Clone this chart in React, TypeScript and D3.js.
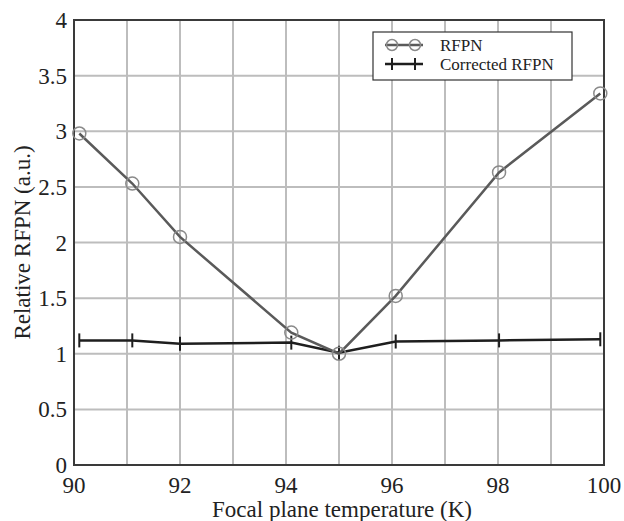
import React from "react";
import * as d3 from "d3";

// Focal plane temperature (K) at each measurement
const temperatures = [90.1, 91.1, 92.0, 94.1, 95.0, 96.07, 98.02, 99.93];
// Relative RFPN before correction (a.u.)
const rfpn = [2.98, 2.53, 2.05, 1.19, 1.0, 1.52, 2.63, 3.34];
// Relative RFPN after correction (a.u.)
const correctedRfpn = [1.12, 1.12, 1.09, 1.1, 1.01, 1.11, 1.12, 1.13];

const xTicks = [90, 92, 94, 96, 98, 100];
const yTicks = [0, 0.5, 1, 1.5, 2, 2.5, 3, 3.5, 4];
const xGrid = d3.range(90, 101, 1);
const yGrid = d3.range(0, 4.01, 0.5);

const seriesNames = ["RFPN", "Corrected RFPN"];

const W = 624;
const H = 521;
const margin = { left: 74, right: 20, top: 20, bottom: 56 };
const font = "'Liberation Serif', 'Times New Roman', serif";

export default function App() {
  const x = d3
    .scaleLinear()
    .domain([90, 100])
    .range([margin.left, W - margin.right]);
  const y = d3
    .scaleLinear()
    .domain([0, 4])
    .range([H - margin.bottom, margin.top]);

  const pts = (vals: number[]) =>
    temperatures.map((t, i) => [t, vals[i]] as [number, number]);
  const line = d3
    .line<[number, number]>()
    .x((d) => x(d[0]))
    .y((d) => y(d[1]));

  const rfpnColor = "#5a5a5a";
  const corrColor = "#1e1e1e";
  const gridColor = "#bdbdbd";

  const lx = 373;
  const ly = 32;
  const row1 = ly + 13;
  const row2 = ly + 32;

  return (
    <svg
      width={W}
      height={H}
      style={{ position: "absolute", left: 0, top: 0, background: "#fff" }}
      fontFamily={font}
    >
      {/* grid */}
      {xGrid.map((v) => (
        <line
          key={"gx" + v}
          x1={x(v)}
          x2={x(v)}
          y1={y(0)}
          y2={y(4)}
          stroke={gridColor}
          strokeWidth={2}
        />
      ))}
      {yGrid.map((v) => (
        <line
          key={"gy" + v}
          x1={x(90)}
          x2={x(100)}
          y1={y(v)}
          y2={y(v)}
          stroke={gridColor}
          strokeWidth={2}
        />
      ))}
      {/* frame */}
      <rect
        x={x(90)}
        y={y(4)}
        width={x(100) - x(90)}
        height={y(0) - y(4)}
        fill="none"
        stroke="#3a3a3a"
        strokeWidth={2}
      />
      {/* tick labels */}
      {xTicks.map((v) => (
        <text
          key={"xt" + v}
          x={x(v)}
          y={y(0) + 28}
          textAnchor="middle"
          fontSize={23}
          fill="#222"
        >
          {v}
        </text>
      ))}
      {yTicks.map((v) => (
        <text
          key={"yt" + v}
          x={x(90) - 7}
          y={y(v) + 8}
          textAnchor="end"
          fontSize={23}
          fill="#222"
        >
          {v}
        </text>
      ))}
      {/* axis titles */}
      <text
        x={(x(90) + x(100)) / 2 + 3}
        y={H - 4}
        textAnchor="middle"
        fontSize={23}
        fill="#222"
      >
        Focal plane temperature (K)
      </text>
      <text
        transform={`translate(30, ${(y(0) + y(4)) / 2}) rotate(-90)`}
        textAnchor="middle"
        fontSize={23}
        fill="#222"
      >
        Relative RFPN (a.u.)
      </text>

      {/* corrected RFPN */}
      <path
        d={line(pts(correctedRfpn)) || ""}
        fill="none"
        stroke={corrColor}
        strokeWidth={2.5}
      />
      {pts(correctedRfpn).map((d, i) => (
        <line
          key={"ct" + i}
          x1={x(d[0])}
          x2={x(d[0])}
          y1={y(d[1]) - 7}
          y2={y(d[1]) + 7}
          stroke={corrColor}
          strokeWidth={2}
        />
      ))}

      {/* RFPN */}
      <path
        d={line(pts(rfpn)) || ""}
        fill="none"
        stroke={rfpnColor}
        strokeWidth={2.5}
      />
      {pts(rfpn).map((d, i) => (
        <circle
          key={"rc" + i}
          cx={x(d[0])}
          cy={y(d[1])}
          r={6.5}
          fill="none"
          stroke="#8a8a8a"
          strokeWidth={1.5}
        />
      ))}

      {/* legend */}
      <rect
        x={lx}
        y={ly}
        width={199}
        height={48}
        fill="#fff"
        stroke="#333"
        strokeWidth={1.2}
      />
      <line x1={lx + 12} x2={lx + 50} y1={row1} y2={row1} stroke={rfpnColor} strokeWidth={2.5} />
      {[lx + 19, lx + 42].map((cx) => (
        <circle key={"lc" + cx} cx={cx} cy={row1} r={5.5} fill="none" stroke="#8a8a8a" strokeWidth={1.5} />
      ))}
      <line x1={lx + 12} x2={lx + 50} y1={row2} y2={row2} stroke={corrColor} strokeWidth={2.5} />
      {[lx + 19, lx + 42].map((cx) => (
        <line key={"lt" + cx} x1={cx} x2={cx} y1={row2 - 6} y2={row2 + 6} stroke={corrColor} strokeWidth={2} />
      ))}
      <text x={lx + 67} y={row1 + 6} fontSize={17} fill="#222">
        {seriesNames[0]}
      </text>
      <text x={lx + 67} y={row2 + 6} fontSize={17} fill="#222">
        {seriesNames[1]}
      </text>
    </svg>
  );
}
